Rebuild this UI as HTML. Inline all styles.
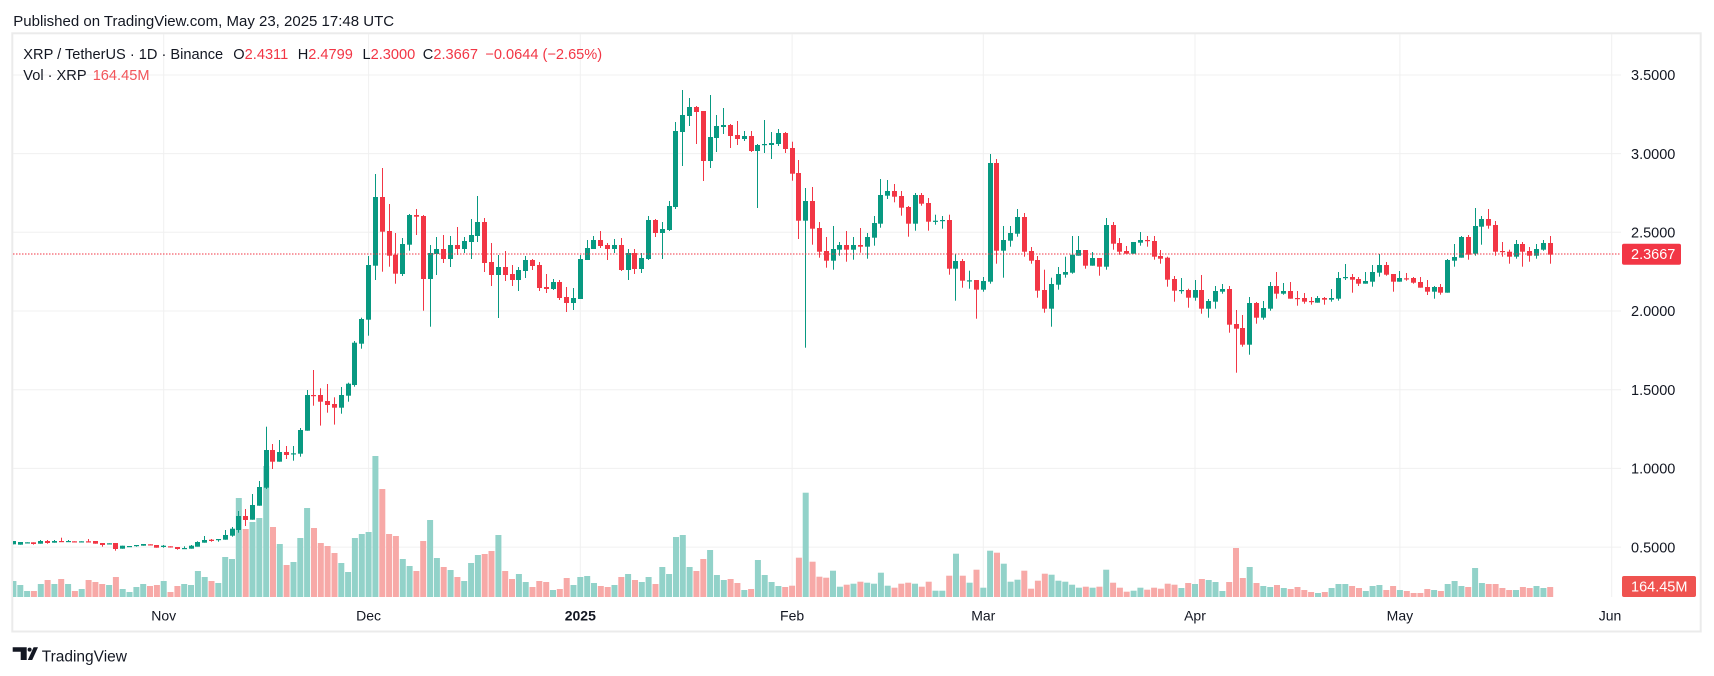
<!DOCTYPE html>
<html>
<head>
<meta charset="utf-8">
<style>
html,body{margin:0;padding:0;background:#fff;}
body{width:1714px;height:676px;overflow:hidden;position:relative;}
svg{position:absolute;left:0;top:0;font-family:"Liberation Sans",Arial,sans-serif;}
</style>
</head>
<body>
<svg id="s" width="1714" height="676" viewBox="0 0 1714 676" xmlns="http://www.w3.org/2000/svg">
<defs><clipPath id="pane"><rect x="13" y="34" width="1608" height="563"/></clipPath></defs>
<rect x="0" y="0" width="1714" height="676" fill="#ffffff"/>
<text x="13.3" y="26" font-size="15" fill="#131722">Published on TradingView.com, May 23, 2025 17:48 UTC</text>
<rect x="12.3" y="33.3" width="1688.4" height="598.2" fill="none" stroke="#ebebeb" stroke-width="2"/>
<g id="grid" stroke="#f0f0f0" stroke-width="1"></g>
<g id="plot" clip-path="url(#pane)"></g>
<line x1="13" y1="254" x2="1620" y2="254" stroke="#F23645" stroke-width="1" stroke-dasharray="1.5 1.5"/>
<g font-size="14.5" fill="#131722">
<text x="1631" y="80.2">3.5000</text>
<text x="1631" y="158.8">3.0000</text>
<text x="1631" y="237.5">2.5000</text>
<text x="1631" y="316.2">2.0000</text>
<text x="1631" y="394.9">1.5000</text>
<text x="1631" y="473.6">1.0000</text>
<text x="1631" y="552.3">0.5000</text>
</g>
<rect x="1622" y="243.7" width="59" height="21" rx="2" fill="#F23645"/>
<text x="1631" y="259.2" font-size="14.5" fill="#ffffff">2.3667</text>
<rect x="1622" y="576" width="74" height="21" rx="2" fill="#EF5350"/>
<text x="1631" y="591.6" font-size="14.5" fill="#ffffff">164.45M</text>
<g font-size="14" fill="#131722" text-anchor="middle">
<text x="163.7" y="620.5">Nov</text>
<text x="368.6" y="620.5">Dec</text>
<text x="580.3" y="620.5" font-weight="bold">2025</text>
<text x="792.1" y="620.5">Feb</text>
<text x="983.3" y="620.5">Mar</text>
<text x="1195" y="620.5">Apr</text>
<text x="1399.9" y="620.5">May</text>
<text x="1610" y="620.5">Jun</text>
</g>
<text y="59" font-size="14.6" fill="#131722"><tspan x="23.3">XRP / TetherUS · 1D · Binance</tspan><tspan x="233.3">O</tspan><tspan fill="#F23645">2.4311</tspan><tspan x="297.7">H</tspan><tspan fill="#F23645">2.4799</tspan><tspan x="362.5">L</tspan><tspan fill="#F23645">2.3000</tspan><tspan x="422.8">C</tspan><tspan fill="#F23645">2.3667</tspan><tspan x="485.3" fill="#F23645">−0.0644 (−2.65%)</tspan></text>
<text y="80" font-size="14.6" fill="#131722"><tspan x="23.3">Vol · XRP</tspan><tspan x="92.7" fill="#F2555A">164.45M</tspan></text>
<g fill="#131722">
<path d="M12.7 647.3 H26.7 V660 H20.7 V651.7 H12.7 Z"/>
<circle cx="29.6" cy="649.6" r="2"/>
<path d="M27.8 660 L33.6 647.3 L38 647.3 L32.2 660 Z"/>
</g>
<text x="41.7" y="661.5" font-size="15.5" fill="#131722">TradingView</text>
</svg>
<script>
(function(){
var A=[[1,1203,1213,1203,1213],[1,1206,1214,1206,1214],[1,1207,1208,1207,1208],[0,1207,1212,1207,1214],[1,1203,1211,1200,1211],[0,1203,1209,1200,1211],[1,1203,1208,1200,1208],[0,1203,1205,1193,1205],[1,1203,1204,1200,1204],[0,1204,1205,1204,1205],[1,1204,1205,1204,1207],[0,1204,1205,1197,1205],[0,1203,1211,1203,1211],[0,1209,1215,1209,1220],[1,1210,1211,1210,1213],[0,1209,1227,1209,1232],[1,1217,1226,1217,1226],[1,1218,1219,1218,1219],[1,1215,1217,1215,1220],[1,1212,1217,1212,1217],[0,1213,1214,1213,1214],[0,1215,1223,1215,1223],
[1,1217,1221,1215,1223],[0,1219,1220,1219,1223],[0,1221,1227,1221,1229],[1,1224,1225,1219,1225],[1,1217,1226,1215,1226],[1,1206,1220,1204,1220],[1,1200,1208,1188,1208],[0,1199,1203,1197,1205],[1,1197,1198,1197,1205],[1,1185,1199,1170,1199],[1,1166,1187,1161,1190],[1,1128,1170,1113,1178],[0,1128,1140,1107,1158],[1,1095,1139,1062,1139],[1,1041,1097,1023,1097],[1,930,1043,860,1047],[0,930,965,912,987],[1,936,965,900,965],[0,936,945,918,957],[1,940,941,918,962],[1,870,941,864,950],[1,765,872,750,872],[0,765,767,690,797],[0,765,785,745,857],[0,783,795,732,818],[0,792,803,772,854],[1,765,803,741,821],[1,731,767,728,785],[1,608,735,603,740],[1,537,611,533,626],[1,375,539,348,587],[1,171,377,102,420],[0,171,275,84,395],[0,273,347,192,380],[0,344,401,279,431]];
var B=[[1,492,582,474,588],[1,405,494,402,512],[0,405,410,387,465],[0,408,597,405,692],[1,519,597,495,740],[1,507,522,471,585],[0,507,537,465,549],[1,495,537,468,561],[0,495,507,441,525],[1,483,507,471,519],[1,465,486,417,537],[1,426,468,348,486],[0,426,549,414,576],[0,546,585,489,618],[1,561,585,525,714],[0,561,585,513,603],[0,582,600,555,618],[1,570,600,561,633],[1,540,573,528,594],[0,540,558,537,570],[0,555,624,546,633],[0,621,627,582,639],[1,606,627,597,630],[0,606,654,600,660],[0,651,669,621,696],[1,654,669,624,690],[1,537,657,525,657],[1,504,540,480,540],[1,480,507,468,507],[0,480,498,453,504],[0,495,507,489,540],[1,495,507,477,519],[0,495,570,474,573],[1,519,570,507,600],[0,519,567,507,582],[1,534,567,519,579],[1,420,537,408,540],[0,420,459,417,471],[1,447,459,426,537],[1,378,450,363,453],[1,153,381,126,387],[1,105,156,30,258],[1,81,108,54,138],[0,81,96,78,192],[0,93,243,93,303],[1,171,243,45,264],[1,138,174,105,216],[1,135,141,84,162],[0,135,168,132,204],[0,165,177,123,195],[1,168,177,153,183],[0,168,213,153,216],[1,195,213,192,384],[1,192,193,120,219],[1,189,195,156,237],[1,159,192,147,198],[0,159,207,156,219]];
var C=[[0,24,101,5,122],[0,99,242,60,297],[1,183,242,144,623],[0,183,266,141,314],[0,264,335,246,353],[0,333,362,291,383],[1,327,362,258,389],[1,315,329,306,347],[0,315,329,273,365],[1,315,329,291,359],[0,315,320,264,338],[1,291,320,279,356],[1,249,293,228,317],[1,165,251,117,263],[1,153,167,120,177],[0,153,170,132,187],[0,168,203,153,227],[0,201,251,198,290],[1,165,251,159,272],[0,165,191,159,197],[0,189,245,174,272],[1,242,243,224,254],[1,240,241,228,266],[0,240,386,224,404],[1,363,386,342,482],[0,363,422,357,443],[1,421,422,392,446],[0,420,449,420,536],[1,423,449,411,455],[1,69,425,42,431],[0,69,332,57,371],[1,300,332,258,413],[1,279,302,258,320],[1,231,281,207,290],[0,231,335,219,350],[0,333,362,321,371],[0,360,452,348,473],[0,450,506,389,518],[1,432,506,413,560],[1,402,434,381,449],[1,396,404,350,413],[1,344,398,288,401],[1,330,347,288,347],[0,330,377,330,386],[1,354,377,336,377],[0,354,380,354,407],[1,255,380,234,389],[0,255,311,246,329],[0,309,335,294,344],[0,333,341,318,341],[1,306,341,306,341],[1,300,308,276,317],[0,300,301,288,320],[0,303,350,288,359],[0,348,356,330,371],[0,353,419,350,440],[0,417,452,408,485]];
var D=[[1,330,331,294,341],[0,330,353,326,383],[1,330,353,300,362],[0,330,386,285,401],[1,363,386,357,413],[1,333,365,318,386],[1,327,335,312,341],[0,327,434,318,458],[0,432,446,390,578],[0,444,494,405,500],[1,369,494,351,524],[0,369,413,366,431],[1,384,413,363,419],[1,318,386,306,392],[0,318,341,276,356],[1,333,341,309,344],[0,333,356,306,356],[0,354,355,333,377],[0,354,365,339,371],[0,363,364,351,374],[1,354,368,348,368],[0,354,359,351,374],[1,354,359,327,365],[1,294,356,276,362],[1,291,292,252,300],[0,291,299,282,338],[0,297,311,291,318],[1,303,311,276,311],[1,276,305,255,320],[1,255,278,222,290],[0,255,284,246,287],[0,282,305,282,335],[1,294,305,273,305],[0,295,296,279,302],[0,294,308,291,311],[0,306,323,291,323],[0,321,335,300,345],[1,321,335,318,356],[0,321,338,312,344],[1,240,338,237,338],[1,231,242,192,260],[1,171,233,168,233],[0,171,224,165,239],[1,138,221,84,227],[1,117,140,108,194],[0,117,137,87,146],[0,135,215,123,227],[0,213,214,186,230],[0,215,230,209,251],[1,192,230,180,236],[0,192,215,186,260],[0,213,227,201,245],[1,207,227,192,236],[1,189,209,180,212],[0,189,224,168,251]];
var VA=[[1,1323],[1,1335],[1,1353],[0,1353],[1,1332],[0,1320],[1,1332],[0,1317],[1,1332],[0,1353],[1,1347],[0,1320],[0,1326],[0,1332],[1,1335],[0,1311],[1,1347],[1,1356],[1,1341],[1,1332],[0,1338],[0,1335],[1,1323],[0,1356],[0,1338],[1,1332],[1,1335],[1,1293],[1,1311],[0,1323],[1,1329],[1,1251],[1,1257],[1,1074],[0,1167],[1,1146],[1,1134],[1,978],[0,1161],[1,1212],[0,1275],[1,1266],[1,1194],[1,1104],[0,1164],[0,1209],[0,1218],[0,1239],[1,1269],[1,1296],[1,1194],[1,1182],[1,1176],[1,948],[0,1047],[0,1182],[0,1188]];
var VB=[[1,1437],[1,1458],[0,1473],[0,1383],[1,1320],[1,1434],[0,1461],[1,1470],[0,1491],[1,1503],[1,1449],[1,1425],[0,1422],[0,1413],[1,1365],[0,1473],[0,1497],[1,1482],[1,1506],[0,1521],[0,1503],[0,1506],[1,1530],[0,1527],[0,1494],[1,1515],[1,1491],[1,1488],[1,1509],[0,1518],[0,1521],[1,1515],[0,1491],[1,1482],[0,1500],[1,1506],[1,1491],[0,1512],[1,1461],[1,1482],[1,1371],[1,1365],[1,1461],[0,1473],[0,1437],[1,1410],[1,1485],[1,1500],[0,1497],[0,1509],[1,1530],[0,1527],[1,1440],[1,1485],[1,1506],[1,1518],[0,1521]];
var VC=[[0,1337],[0,1253],[1,1058],[0,1265],[0,1310],[0,1313],[1,1292],[1,1340],[0,1334],[1,1331],[0,1325],[1,1328],[1,1331],[1,1298],[1,1337],[0,1343],[0,1331],[0,1328],[1,1331],[0,1340],[0,1325],[1,1352],[1,1352],[0,1307],[1,1241],[0,1307],[1,1328],[0,1289],[1,1343],[1,1232],[0,1238],[1,1271],[1,1325],[1,1319],[0,1292],[0,1346],[0,1322],[0,1301],[1,1304],[1,1322],[1,1325],[1,1334],[1,1343],[0,1340],[1,1343],[0,1340],[1,1289],[0,1328],[0,1343],[0,1355],[1,1352],[1,1343],[0,1349],[0,1343],[0,1346],[0,1331],[0,1334]];
var VD=[[1,1224],[0,1209],[1,1212],[0,1197],[1,1200],[1,1206],[1,1233],[0,1206],[0,1104],[0,1194],[1,1161],[0,1209],[1,1218],[1,1221],[0,1215],[1,1224],[0,1227],[0,1221],[0,1230],[0,1236],[1,1239],[0,1236],[1,1224],[1,1212],[1,1212],[0,1218],[0,1224],[1,1233],[1,1218],[1,1215],[0,1230],[0,1218],[1,1230],[0,1233],[0,1239],[0,1239],[0,1227],[1,1230],[0,1233],[1,1212],[1,1203],[1,1218],[0,1221],[1,1164],[1,1209],[0,1212],[0,1212],[0,1224],[0,1230],[1,1230],[0,1221],[0,1224],[1,1218],[1,1224],[0,1221]];
function X(d){return 163.7+d*6.83;}
function f(v){return (Math.round(v*10)/10).toString();}
var grid='';
[75,153.6,232.3,311,389.7,468.4,547.1].forEach(function(y){grid+='<line x1="13" y1="'+y+'" x2="1621" y2="'+y+'"/>';});
[163.7,368.6,580.3,792.1,983.3,1195,1399.9,1611.7].forEach(function(x){grid+='<line x1="'+x+'" y1="34" x2="'+x+'" y2="597"/>';});
document.getElementById('grid').innerHTML=grid;
var g='';
var V=[[140,-22,VA],[80,35,VB],[140,92,VC],[180,149,VD]];
V.forEach(function(s){var oy=s[0],d0=s[1];s[2].forEach(function(v,i){var cx=X(d0+i);var top=oy+v[1]/3;
g+='<rect x="'+f(cx-3)+'" y="'+f(top)+'" width="6" height="'+f(597-top)+'" fill="'+(v[0]?'#92d2c9':'#f7a9a7')+'"/>';});});
var S=[[140,-22,A],[80,35,B],[140,92,C],[180,149,D]];
S.forEach(function(s){var oy=s[0],d0=s[1];s[2].forEach(function(c,i){var cx=X(d0+i);var bx=Math.round(cx-2.5);var col=c[0]?'#089981':'#f23645';
var bt=oy+c[1]/3,bb=oy+c[2]/3,wt=oy+c[3]/3,wb=oy+c[4]/3;
g+='<rect x="'+(bx+2)+'" y="'+f(wt)+'" width="1" height="'+f(Math.max(wb-wt,1))+'" fill="'+col+'"/>';
g+='<rect x="'+bx+'" y="'+f(bt)+'" width="5" height="'+f(Math.max(bb-bt,1.2))+'" fill="'+col+'"/>';});});
document.getElementById('plot').innerHTML=g;
})();
</script>
</body>
</html>
